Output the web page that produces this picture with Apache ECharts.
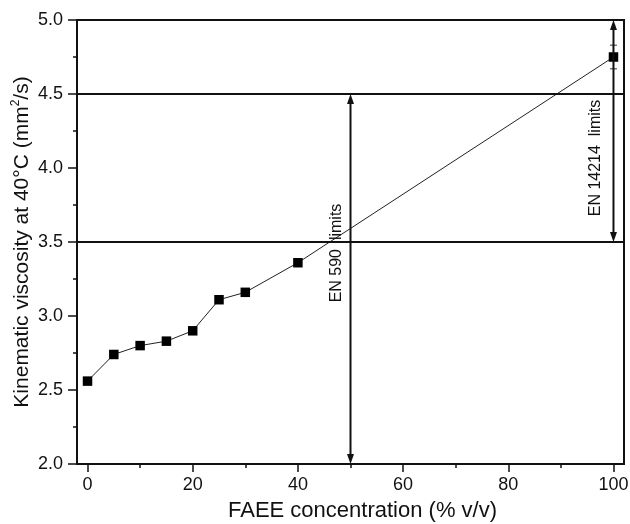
<!DOCTYPE html>
<html>
<head>
<meta charset="utf-8">
<script src="https://cdn.jsdelivr.net/npm/echarts@6/dist/echarts.min.js"></script>
<style>
  html, body { margin: 0; padding: 0; background: #fff; }
  #chart { width: 630px; height: 524px; }
</style>
</head>
<body>
<div id="chart"></div>
<script>
// FAEE blend viscosity measurements
const concentration = [0, 5, 10, 15, 20, 25, 30, 40, 100];
const viscosity = [2.56, 2.74, 2.80, 2.83, 2.90, 3.11, 3.16, 3.36, 4.75];
const viscosityError = [0, 0, 0, 0, 0, 0, 0, 0, 0.08];

// axis ticks
const xTicks = [0, 20, 40, 60, 80, 100];
const xMinorTicks = [10, 30, 50, 70, 90];

// specification limits (EN 590 / EN 14214)
const specLevels = [3.5, 4.5];
const limitNames = ['EN 590  limits', 'EN 14214  limits'];
const limitX = [50, 100];
const limitLow = [2.0, 3.5];
const limitHigh = [4.5, 5.0];

const FONT = '"Liberation Sans", Arial, Helvetica, sans-serif';
const INK = '#111';

// label placement along each double arrow (pixel offsets from arrow midpoint)
const labelShift = [[-14, -26], [-18, 27]];

const chart = echarts.init(document.getElementById('chart'), null, { renderer: 'canvas' });

function renderArrow(params, api) {
  const i = params.dataIndex;
  const x = api.value(0);
  const lo = api.coord([x, api.value(1)]);
  const hi = api.coord([x, api.value(2)]);
  const hw = 3.5, hl = 10;
  const mid = (lo[1] + hi[1]) / 2;
  return {
    type: 'group',
    children: [
      { type: 'line', shape: { x1: lo[0], y1: lo[1] - hl + 1, x2: hi[0], y2: hi[1] + hl - 1 },
        style: { stroke: INK, lineWidth: 2 } },
      { type: 'polygon', shape: { points: [[hi[0], hi[1]], [hi[0] - hw, hi[1] + hl], [hi[0] + hw, hi[1] + hl]] },
        style: { fill: INK } },
      { type: 'polygon', shape: { points: [[lo[0], lo[1]], [lo[0] - hw, lo[1] - hl], [lo[0] + hw, lo[1] - hl]] },
        style: { fill: INK } },
      { type: 'text', x: lo[0] + labelShift[i][0], y: mid + labelShift[i][1], rotation: Math.PI / 2,
        style: { text: limitNames[i], fontSize: 16, fontFamily: FONT, fill: INK,
                 align: 'center', verticalAlign: 'middle' } }
    ]
  };
}

function renderErrorBar(params, api) {
  const x = api.value(0);
  const a = api.coord([x, api.value(1)]);
  const b = api.coord([x, api.value(2)]);
  if (Math.abs(a[1] - b[1]) < 0.5) return null;
  const cw = 3.5;
  return {
    type: 'group',
    children: [
      { type: 'line', shape: { x1: a[0], y1: a[1], x2: b[0], y2: b[1] }, style: { stroke: '#333', lineWidth: 1 } },
      { type: 'line', shape: { x1: a[0] - cw, y1: a[1], x2: a[0] + cw, y2: a[1] }, style: { stroke: '#333', lineWidth: 1 } },
      { type: 'line', shape: { x1: b[0] - cw, y1: b[1], x2: b[0] + cw, y2: b[1] }, style: { stroke: '#333', lineWidth: 1 } }
    ]
  };
}

const option = {
  animation: false,
  backgroundColor: '#fff',
  textStyle: { fontFamily: FONT, color: INK },
  grid: { left: 77, right: 6, top: 20, bottom: 60, show: true, borderColor: INK, borderWidth: 2,
          backgroundColor: 'transparent', containLabel: false, outerBoundsMode: 'none' },
  xAxis: [
    {
      type: 'value', min: -2, max: 102,
      name: 'FAEE concentration (% v/v)', nameLocation: 'middle', nameGap: 36, nameMoveOverlap: false,
      nameTextStyle: { fontSize: 22, fontFamily: FONT, color: INK, padding: [0, 0, 0, 24] },
      axisLine: { show: true, onZero: false, lineStyle: { color: INK, width: 2 } },
      axisTick: { show: true, customValues: xTicks, length: 8, lineStyle: { color: INK, width: 1.5 } },
      axisLabel: { customValues: xTicks, fontSize: 18, fontFamily: FONT, color: INK, margin: 12 },
      splitLine: { show: false }
    },
    {
      type: 'value', min: -2, max: 102, position: 'bottom',
      axisLine: { show: false },
      axisTick: { show: true, customValues: xMinorTicks, length: 4, lineStyle: { color: INK, width: 1.5 } },
      axisLabel: { show: false },
      splitLine: { show: false }
    }
  ],
  yAxis: {
    type: 'value', min: 2, max: 5, interval: 0.5,
    name: '{n|Kinematic viscosity at 40°C (mm}{s|2}{n|/s)}',
    nameLocation: 'middle', nameGap: 43, nameMoveOverlap: false,
    nameTextStyle: {
      fontFamily: FONT, color: INK,
      rich: {
        n: { fontSize: 21, fontFamily: FONT, color: INK, lineHeight: 24 },
        s: { fontSize: 12, fontFamily: FONT, color: INK, verticalAlign: 'top', lineHeight: 24 }
      }
    },
    axisLine: { show: true, onZero: false, lineStyle: { color: INK, width: 2 } },
    axisTick: { show: true, length: 9, lineStyle: { color: INK, width: 1.5 } },
    minorTick: { show: true, splitNumber: 2, length: 4, lineStyle: { color: INK, width: 1.5 } },
    axisLabel: { fontSize: 18, fontFamily: FONT, color: INK, margin: 14,
                 formatter: v => v.toFixed(1) },
    splitLine: { show: false },
    minorSplitLine: { show: false }
  },
  series: [
    {
      type: 'custom', name: 'error', renderItem: renderErrorBar, z: 3,
      data: concentration.map((x, i) => [x, viscosity[i] - viscosityError[i], viscosity[i] + viscosityError[i]])
    },
    {
      type: 'line', name: 'viscosity', z: 4,
      data: concentration.map((x, i) => [x, viscosity[i]]),
      symbol: 'rect', symbolSize: 9.5, showSymbol: true,
      itemStyle: { color: '#000' },
      lineStyle: { color: '#222', width: 1 },
      markLine: {
        silent: true, symbol: 'none', animation: false,
        label: { show: false },
        lineStyle: { color: INK, width: 2, type: 'solid' },
        data: specLevels.map(v => ({ yAxis: v }))
      }
    },
    {
      type: 'custom', name: 'limits', renderItem: renderArrow, clip: false, z: 5,
      data: limitX.map((x, i) => [x, limitLow[i], limitHigh[i]])
    }
  ]
};

chart.setOption(option);
</script>
</body>
</html>
